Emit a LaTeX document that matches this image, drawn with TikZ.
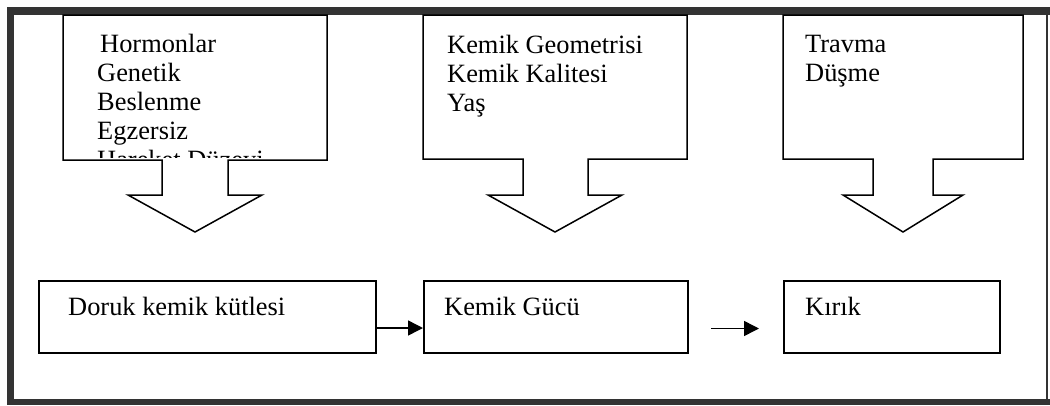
\documentclass[tikz,border=0pt]{standalone}
\usepackage{fontspec}
\setmainfont{Liberation Serif}
\usetikzlibrary{arrows.meta}
\definecolor{framegray}{HTML}{333333}
\tikzset{
  outline/.style={draw=black, line width=1.5pt, fill=white, line join=miter},
  panel/.style={draw=black, line width=1.5pt, fill=white, rectangle, inner sep=0pt, anchor=north west},
  lbl/.style={inner sep=0pt, font=\fontsize{26.4}{29}\selectfont, align=left, anchor=base west},
  flow/.style={line width=1.5pt, -{Triangle[length=15pt, width=15pt]}}
}
\begin{document}
\begin{tikzpicture}[x=1pt, y=-1pt]
\useasboundingbox (0,0) rectangle (1050,405);
\fill[white] (0,0) rectangle (1050,405);

% outer frame: heavy top, left and bottom edges, thin right edge
\fill[framegray] (7,7) rectangle (1050,14.5);
\fill[framegray] (7,7) rectangle (13.5,405);
\fill[framegray] (7,399) rectangle (1050,405);
\fill[framegray] (1045.5,7) rectangle (1047.5,405);

% callout boxes with downward block arrows
\draw[outline] (63,15) -- (327,15) -- (327,160) -- (228,160) -- (228,195) -- (262,195)
  -- (195,232) -- (128,195) -- (162,195) -- (162,160) -- (63,160) -- cycle;
\draw[outline] (423,15) -- (687,15) -- (687,159) -- (588,159) -- (588,195) -- (622,195)
  -- (555,232) -- (488,195) -- (523,195) -- (523,159) -- (423,159) -- cycle;
\draw[outline] (783,15) -- (1023,15) -- (1023,159) -- (933,159) -- (933,195) -- (963,195)
  -- (903,232) -- (843,195) -- (873,195) -- (873,159) -- (783,159) -- cycle;

% factor lists (base anchor sits on the last line)
\node[lbl] (f1) at (97,139) {\hspace{3pt}Hormonlar\\Genetik\\Beslenme\\Egzersiz};
\begin{scope}
  \clip (64,16) rectangle (326,157.5);
  \node[lbl] (f1x) at (97,168) {Hareket Düzeyi};
\end{scope}
\node[lbl] (f2) at (447,111) {Kemik Geometrisi\\Kemik Kalitesi\\Yaş};
\node[lbl] (f3) at (805,81) {Travma\\Düşme};

% outcome chain
\node[panel, minimum width=337pt, minimum height=72pt] (b1) at (38,280) {};
\node[panel, minimum width=264pt, minimum height=72pt] (b2) at (423,280) {};
\node[panel, minimum width=216pt, minimum height=72pt] (b3) at (783,280) {};
\node[lbl] (t1) at (68,315) {Doruk kemik kütlesi};
\node[lbl] (t2) at (444,315) {Kemik Gücü};
\node[lbl] (t3) at (805,315) {Kırık};

\coordinate (a1s) at ([yshift=-48pt]b1.north east);
\coordinate (a1e) at ([yshift=-48pt]b2.north west);
\draw[flow] (a1s) -- (a1e);
\coordinate (a2s) at (711,328.5);
\coordinate (a2e) at (759,328.5);
\draw[flow] (a2s) -- (a2e);
\end{tikzpicture}
\end{document}
